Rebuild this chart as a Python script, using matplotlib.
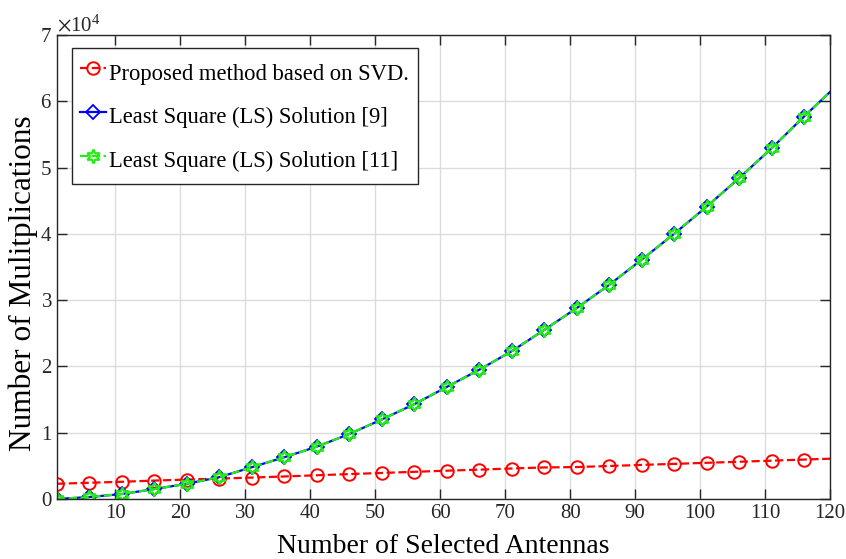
import numpy as np
import matplotlib.pyplot as plt
from matplotlib.ticker import ScalarFormatter

plt.rcParams['font.family'] = ['Liberation Serif', 'DejaVu Serif']
plt.rcParams['mathtext.fontset'] = 'stix'

# marker positions (every 5 antennas) plus the end point
antennas = [1, 6, 11, 16, 21, 26, 31, 36, 41, 46, 51, 56, 61, 66, 71, 76,
            81, 86, 91, 96, 101, 106, 111, 116, 120]
svd_mults = [2300, 2450, 2600, 2780, 2930, 3080, 3230, 3400, 3580, 3760,
             3930, 4100, 4270, 4430, 4600, 4760, 4820, 4980, 5140, 5300,
             5460, 5620, 5780, 5950, 6080]
ls9_mults = [0, 300, 750, 1500, 2300, 3300, 4800, 6300, 7900, 9800,
             12000, 14300, 16900, 19500, 22300, 25500, 28800, 32300, 36100,
             40000, 44100, 48400, 52900, 57700, 61400]
ls11_mults = list(ls9_mults)

labels = ['Proposed method based on SVD.',
          'Least Square (LS) Solution [9]',
          'Least Square (LS) Solution [11]']

x = np.array(antennas)
n_mark = len(x) - 1  # last point is only the line end

fig = plt.figure(figsize=(8.46, 5.59), dpi=100)
ax = fig.add_axes([57 / 846, 60 / 559, 773 / 846, 464 / 559])

hexagram = (6, 1, 0)
ax.plot(x, svd_mults, '--', color='red', lw=1.6, marker='o', ms=9,
        mfc='none', mew=1.4, markevery=list(range(n_mark)), label=labels[0])
ax.plot(x, ls9_mults, '-', color='blue', lw=1.6, marker='D', ms=7,
        mfc='none', mew=1.3, markevery=list(range(n_mark)), label=labels[1])
ax.plot(x, ls11_mults, '--', color='#22ee11', lw=1.6, marker=hexagram, ms=10,
        mfc='none', mew=1.6, markevery=list(range(n_mark)), label=labels[2])

ax.set_xlim(1, 120)
ax.set_ylim(0, 70000)
ax.set_xticks(range(10, 121, 10))
ax.set_yticks(range(0, 70001, 10000))

fmt = ScalarFormatter(useMathText=True)
fmt.set_powerlimits((0, 0))
ax.yaxis.set_major_formatter(fmt)
ax.yaxis.get_offset_text().set_fontsize(15)
ax.yaxis.get_offset_text().set_x(0.0)

ax.grid(True, color='#dcdcdc', lw=1.0)
ax.set_axisbelow(True)
ax.tick_params(direction='in', top=True, right=True, length=7, width=1.0,
               labelsize=15, colors='#262626')
for s in ax.spines.values():
    s.set_color('#262626')
    s.set_linewidth(1.0)

ax.set_xlabel('Number of Selected Antennas', fontsize=20, labelpad=8)
ax.set_ylabel('Number of Mulitplications', fontsize=22.5)
ax.yaxis.set_label_coords(-0.024, 0.465)

leg = ax.legend(loc='upper left', bbox_to_anchor=(0.019, 0.972), fontsize=16.3,
                handlelength=1.15, handleheight=1.75, handletextpad=0.12,
                borderaxespad=0, labelspacing=0.55, fancybox=False,
                framealpha=1, edgecolor='#262626', borderpad=0.38)
leg.get_frame().set_linewidth(1.0)

fig.savefig('out.png', dpi=100)
